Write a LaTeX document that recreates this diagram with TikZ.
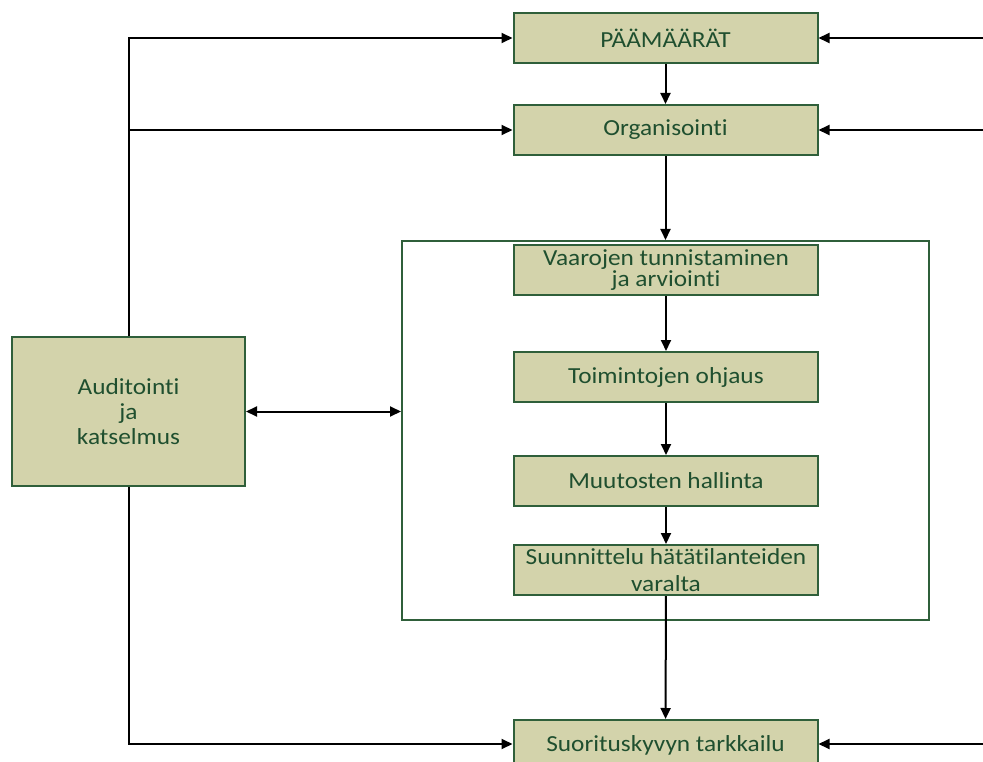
\documentclass[tikz,border=0pt]{standalone}
\usepackage{fontspec}
\setmainfont{Carlito}[FakeStretch=1.1, Ligatures=NoCommon]
\usetikzlibrary{arrows.meta}
\definecolor{boxfill}{HTML}{D3D3AB}
\definecolor{boxline}{HTML}{2F5F3A}
\definecolor{boxtext}{HTML}{1F4F2F}
\tikzset{
  stepbox/.style={draw=boxline, line width=2pt, fill=boxfill, text=boxtext,
    minimum width=304pt, minimum height=50pt, inner sep=0pt, align=center,
    font=\fontsize{23pt}{27pt}\selectfont},
  conn/.style={line width=2pt, -{Triangle[length=11pt,width=10pt]}},
  conn2/.style={line width=2pt, {Triangle[length=11pt,width=10pt]}-{Triangle[length=11pt,width=10pt]}}
}
\begin{document}
\begin{tikzpicture}[x=1pt,y=-1pt]
\useasboundingbox (0,0) rectangle (983,762);
\node[draw=boxline, line width=2pt, minimum width=527pt, minimum height=379pt, inner sep=0pt] (frame) at (665.5,430.5) {};
\node[stepbox] (paa) at (665.5,38) {PÄÄMÄÄRÄT};
\node[stepbox] (org) at (665.5,130) {Organisointi};
\node[stepbox, minimum height=49pt] (vaa) at (666,270) {\raisebox{3pt}{\shortstack{Vaarojen tunnistaminen\\[-1pt]ja arviointi}}};
\node[stepbox] (toi) at (666,377) {Toimintojen ohjaus};
\node[stepbox] (muu) at (666,481) {Muutosten hallinta};
\node[stepbox] (suu) at (666,570) {Suunnittelu hätätilanteiden\\varalta};
\node[stepbox] (suo) at (665.5,745) {Suorituskyvyn tarkkailu};
\node[stepbox, minimum width=233pt, minimum height=149pt, font=\fontsize{23pt}{25pt}\selectfont] (aud) at (128.5,411.5) {Auditointi\\ja\\katselmus};
\coordinate (r1) at (983,38);
\coordinate (r2) at (983,130);
\coordinate (r3) at (983,744);
\draw[conn] (paa) -- (org);
\draw[conn] (org) -- (frame.north);
\draw[conn] (vaa) -- (toi);
\draw[conn] (toi) -- (muu);
\draw[conn] (muu) -- (suu);
\draw[conn] (suu) -- (suo);
\draw[conn] (r1) -- (paa.east);
\draw[conn] (r2) -- (org.east);
\draw[conn] (r3) -- (r3 -| suo.east);
\draw[conn] (aud.north) |- (paa.west);
\draw[conn] (aud.north |- org.west) -- (org.west);
\draw[conn] (aud.south) |- (r3 -| suo.west);
\draw[conn2] (aud.east) -- (aud.east -| frame.west);
\end{tikzpicture}
\end{document}
